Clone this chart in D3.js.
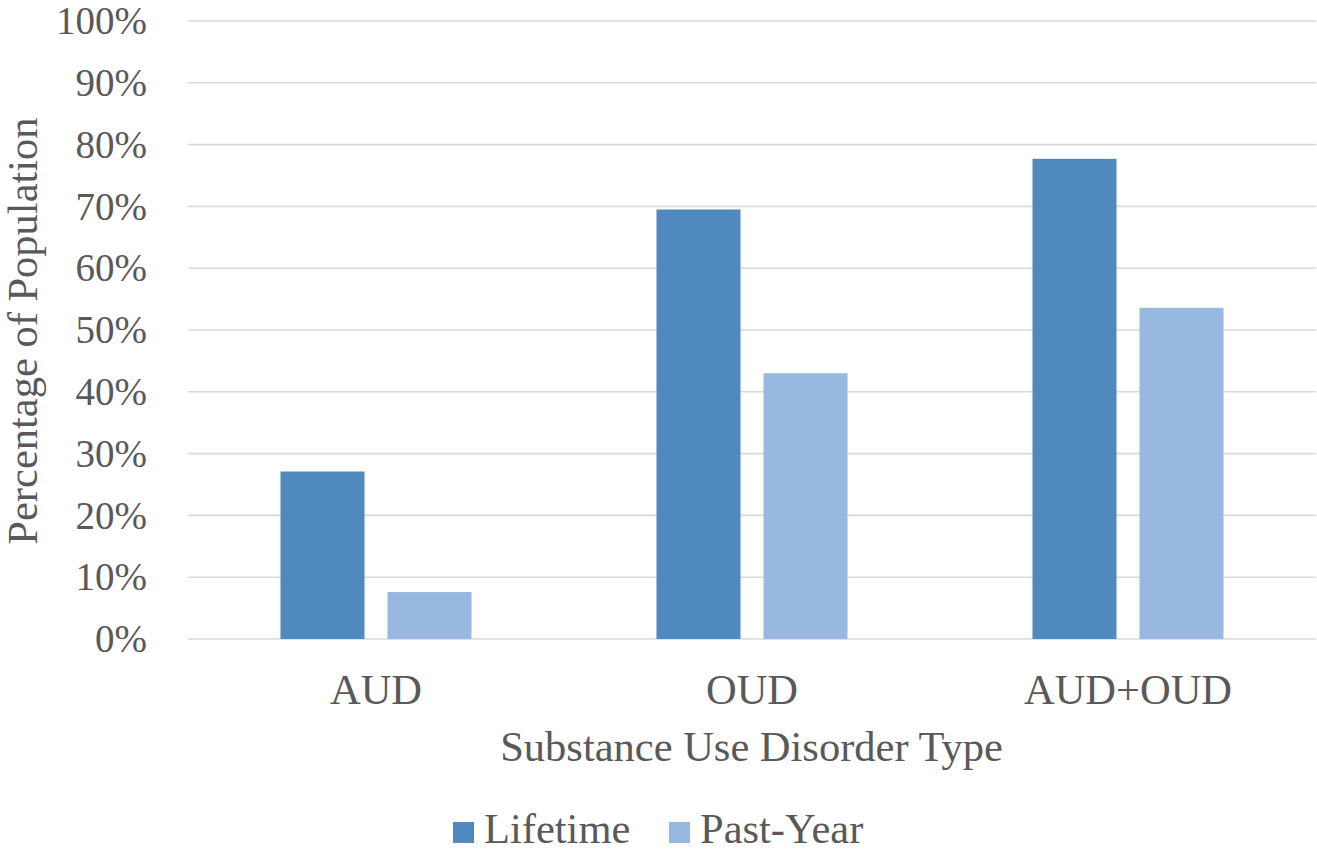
<!DOCTYPE html>
<html><head><meta charset="utf-8">
<script src="https://cdn.jsdelivr.net/npm/d3@7"></script>
<style>body{margin:0;background:#fff}svg{display:block}text{font-family:"Liberation Serif","Times New Roman",serif;fill:#595959}</style>
</head><body>
<svg id="chart" width="1317" height="852"></svg>
<script>
const categories = ["AUD", "OUD", "AUD+OUD"];
const seriesNames = ["Lifetime", "Past-Year"];
const lifetime = [27.1, 69.5, 77.7];
const pastYear = [7.6, 43.0, 53.6];
const yTicks = [0,10,20,30,40,50,60,70,80,90,100];
const colors = ["#4F89BD", "#98B9DF"];

(function(){
const svg = d3.select("#chart");
const FS = 42.5, TFS = 39;
const mLeft = 188, mRight = 1316, mTop = 21, mBottom = 639;
const x = d3.scaleBand().domain(categories).range([mLeft, mRight]);
const xs = d3.scaleBand().domain(seriesNames).range([x.bandwidth()*0.246, x.bandwidth()*0.754]).paddingInner(0.215);
const y = d3.scaleLinear().domain([0,100]).range([mBottom, mTop]);

svg.append("g").selectAll("line").data(yTicks).join("line")
  .attr("x1", mLeft).attr("x2", mRight)
  .attr("y1", d=>y(d)).attr("y2", d=>y(d))
  .attr("stroke", "#d9d9d9").attr("stroke-width", 1.6);

svg.append("g").selectAll("text").data(yTicks).join("text")
  .attr("x", 147).attr("y", d=>y(d)).attr("dy", "0.34em")
  .attr("text-anchor", "end").attr("font-size", TFS)
  .text(d=>d+"%");

const data = categories.map((c,i)=>({c, vals:[lifetime[i], pastYear[i]]}));
const g = svg.append("g").selectAll("g").data(data).join("g")
  .attr("transform", d=>`translate(${x(d.c)},0)`);
g.selectAll("rect").data(d=>d.vals.map((v,j)=>({v, s:seriesNames[j], j}))).join("rect")
  .attr("x", d=>xs(d.s)).attr("width", xs.bandwidth())
  .attr("y", d=>y(d.v)).attr("height", d=>y(0)-y(d.v))
  .attr("fill", d=>colors[d.j]);

svg.append("g").selectAll("text").data(categories).join("text")
  .attr("x", d=>x(d)+x.bandwidth()/2).attr("y", 704)
  .attr("text-anchor", "middle").attr("font-size", FS).text(d=>d);

svg.append("text").attr("x", (mLeft+mRight)/2 - 0.5).attr("y", 761)
  .attr("text-anchor", "middle").attr("font-size", FS).text("Substance Use Disorder Type");

svg.append("text").attr("transform", "translate(37,331) rotate(-90)")
  .attr("text-anchor", "middle").attr("font-size", FS).text("Percentage of Population");

const legendX = [453, 669];
const lg = svg.append("g").selectAll("g").data(seriesNames).join("g")
  .attr("transform", (d,i)=>`translate(${legendX[i]},822)`);
lg.append("rect").attr("width", 21).attr("height", 21).attr("fill", (d,i)=>colors[i]);
lg.append("text").attr("x", 31).attr("y", 21).attr("font-size", FS).text(d=>d);
})();
</script>
</body></html>
